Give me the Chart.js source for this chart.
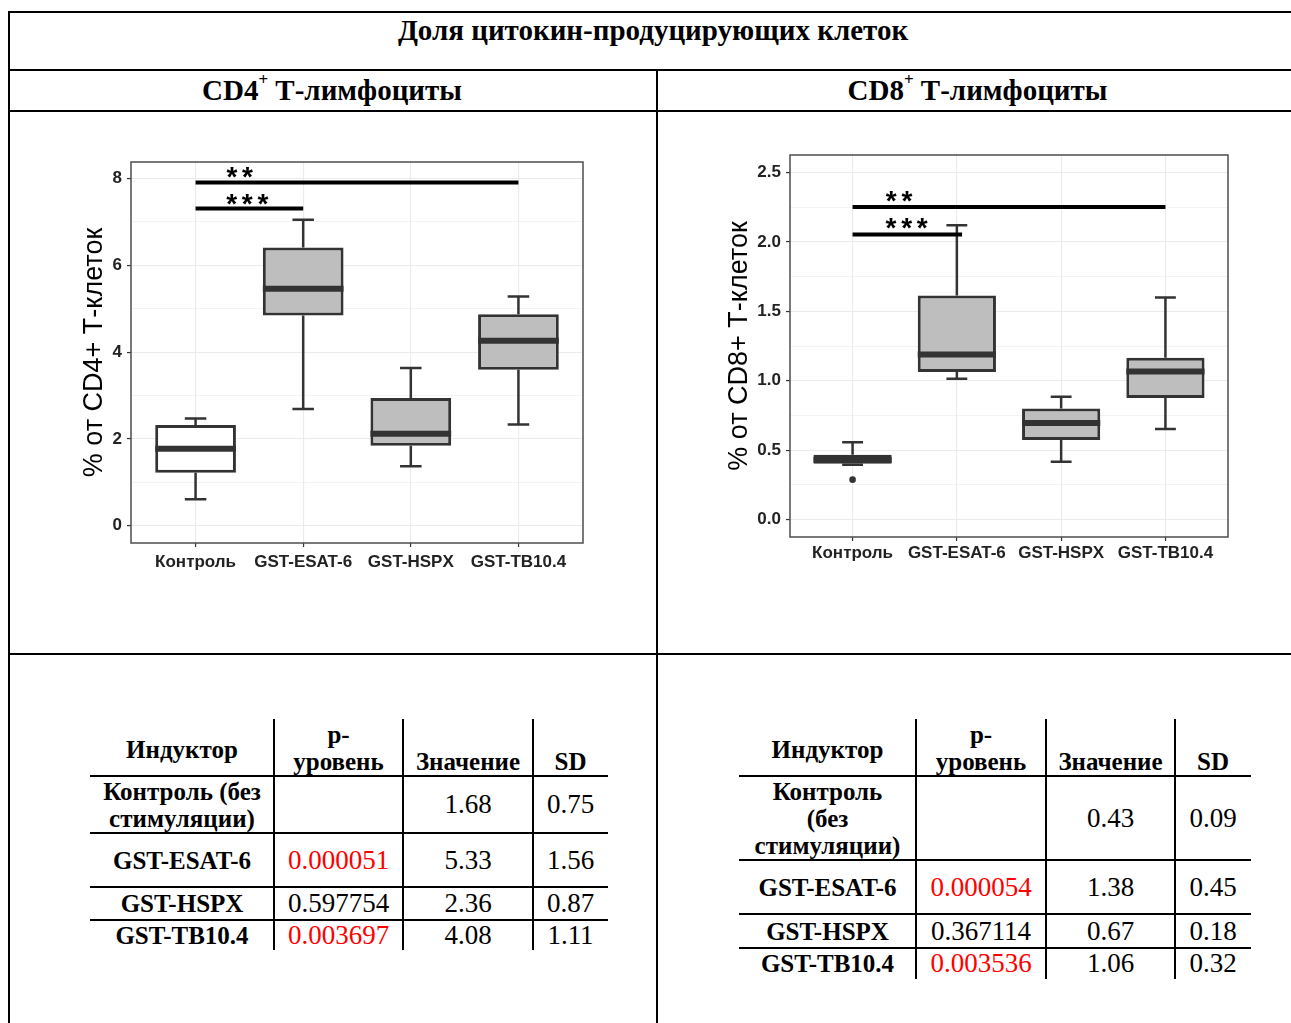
<!DOCTYPE html>
<html lang="ru">
<head>
<meta charset="utf-8">
<title>Доля цитокин-продуцирующих клеток</title>
<script src="https://cdn.jsdelivr.net/npm/chart.js@4.4.1/dist/chart.umd.min.js"></script>
<style>
  html, body { margin: 0; padding: 0; background: #fff; }
  body { position: relative; width: 1291px; height: 1023px; overflow: hidden;
         font-family: "Liberation Serif", "Times New Roman", serif; color: #000; }
  .hl { position: absolute; height: 2px; background: #000; }
  .vl { position: absolute; width: 2px; background: #000; }
  .caption { position: absolute; text-align: center; font-weight: bold; font-size: 29px;
             white-space: nowrap; line-height: 32px; }
  .caption sup { font-size: 17px; position: relative; top: -3px; vertical-align: top; line-height: 1; }
  canvas { position: absolute; }
  .cell { position: absolute; display: flex; justify-content: center; align-items: center;
          text-align: center; white-space: pre-line; line-height: 27px; box-sizing: border-box; }
  .cell.head { align-items: flex-end; padding-bottom: 1px; font-weight: bold; font-size: 25px; }
  .cell.head.mid { align-items: center; padding-bottom: 0; padding-top: 3px; }
  .cell.label { font-weight: bold; font-size: 25px; }
  .cell.num { font-size: 27px; }
  .cell.sig { color: #FF0000; }
</style>
</head>
<body>

<div class="hl" style="left:8px; top:11px; width:1283px;"></div>
<div class="vl" style="left:8px; top:11px; height:1012px;"></div>
<div class="hl" style="left:8px; top:69px; width:1283px;"></div>
<div class="hl" style="left:8px; top:110px; width:1283px;"></div>
<div class="vl" style="left:656px; top:69px; height:954px;"></div>
<div class="hl" style="left:8px; top:653px; width:1283px;"></div>

<div class="caption" style="left:153px; width:1000px; top:14px;">Доля цитокин-продуцирующих клеток</div>
<div class="caption" style="left:9px; width:646px; top:74px;">CD4<sup>+</sup> Т-лимфоциты</div>
<div class="caption" style="left:661px; width:633px; top:74px;">CD8<sup>+</sup> Т-лимфоциты</div>

<canvas id="cd4Chart" width="520" height="445" style="left:75px; top:140px;"></canvas>
<canvas id="cd8Chart" width="525" height="440" style="left:715px; top:135px;"></canvas>

<div id="cd4Table"></div>
<div id="cd8Table"></div>

<script>
// ---- groups ----
const categories = ['Контроль', 'GST-ESAT-6', 'GST-HSPX', 'GST-TB10.4'];

// ---- CD4+ box plot statistics (% of CD4+ T cells) ----
const cd4Min    = [0.61, 2.69, 1.37, 2.33];
const cd4Q1     = [1.22, 4.84, 1.84, 3.59];
const cd4Median = [1.77, 5.46, 2.12, 4.26];
const cd4Q3     = [2.32, 6.41, 2.94, 4.87];
const cd4Max    = [2.47, 7.05, 3.63, 5.28];
const cd4OutlierGroup = [];
const cd4OutlierValue = [];
const cd4YTicks = [0, 1, 2, 3, 4, 5, 6, 7, 8];
const cd4YLabels = [0, 2, 4, 6, 8];

// significance brackets for CD4+
const cd4SigFrom   = [1, 1];
const cd4SigTo     = [4, 2];
const cd4SigLevel  = [7.91, 7.31];
const cd4SigLabel  = ['**', '***'];
const cd4SigLabelX = [1.41, 1.48];
const cd4SigLabelY = [8.21, 7.59];

// ---- CD8+ box plot statistics (% of CD8+ T cells) ----
const cd8Min    = [0.395, 1.014, 0.417, 0.652];
const cd8Q1     = [0.403, 1.062, 0.573, 0.875];
const cd8Median = [0.431, 1.189, 0.695, 1.067];
const cd8Q3     = [0.467, 1.613, 0.800, 1.165];
const cd8Max    = [0.558, 2.120, 0.884, 1.599];
const cd8OutlierGroup = [1];
const cd8OutlierValue = [0.288];
const cd8YTicks = [0, 0.25, 0.5, 0.75, 1, 1.25, 1.5, 1.75, 2, 2.25, 2.5];
const cd8YLabels = [0, 0.5, 1, 1.5, 2, 2.5];

// significance brackets for CD8+
const cd8SigFrom   = [1, 1];
const cd8SigTo     = [4, 2.05];
const cd8SigLevel  = [2.25, 2.052];
const cd8SigLabel  = ['**', '***'];
const cd8SigLabelX = [1.446, 1.518];
const cd8SigLabelY = [2.346, 2.148];

// ---- summary tables ----
const tableHeaders = ['Индуктор', 'р-\nуровень', 'Значение', 'SD'];
const cd4RowLabels = ['Контроль (без\nстимуляции)', 'GST-ESAT-6', 'GST-HSPX', 'GST-TB10.4'];
const cd8RowLabels = ['Контроль\n(без\nстимуляции)', 'GST-ESAT-6', 'GST-HSPX', 'GST-TB10.4'];
const cd4PValues = ['', '0.000051', '0.597754', '0.003697'];
const cd4Means   = ['1.68', '5.33', '2.36', '4.08'];
const cd4SD      = ['0.75', '1.56', '0.87', '1.11'];
const cd8PValues = ['', '0.000054', '0.367114', '0.003536'];
const cd8Means   = ['0.43', '1.38', '0.67', '1.06'];
const cd8SD      = ['0.09', '0.45', '0.18', '0.32'];
const alpha = 0.05;

// ---------------------------------------------------------------
const INK = '#333333';
const GRID = '#EBEBEB';
const TICK_FONT = { family: 'Liberation Sans, Arial, sans-serif', weight: 'bold', size: 17 };

// whiskers, caps, medians, star labels and the panel frame
function boxDecorations(s) {
  return {
    id: 'boxDecorations',
    beforeDatasetsDraw(chart) {
      const { ctx } = chart;
      const x = chart.scales.x, y = chart.scales.y;
      ctx.save();
      ctx.strokeStyle = INK;
      ctx.lineWidth = 2.5;
      ctx.lineCap = 'butt';
      s.q1.forEach((q1, i) => {
        const cx = x.getPixelForValue(i + 1);
        const half = x.getPixelForValue(i + 1 + s.capWidth / 2) - cx;
        const yMin = y.getPixelForValue(s.min[i]);
        const yMax = y.getPixelForValue(s.max[i]);
        const yQ1 = y.getPixelForValue(q1);
        const yQ3 = y.getPixelForValue(s.q3[i]);
        ctx.beginPath();
        ctx.moveTo(cx, yQ3); ctx.lineTo(cx, yMax);
        ctx.moveTo(cx, yQ1); ctx.lineTo(cx, yMin);
        ctx.moveTo(cx - half, yMax); ctx.lineTo(cx + half, yMax);
        ctx.moveTo(cx - half, yMin); ctx.lineTo(cx + half, yMin);
        ctx.stroke();
      });
      ctx.restore();
    },
    afterDatasetsDraw(chart) {
      const { ctx } = chart;
      const x = chart.scales.x, y = chart.scales.y;
      const boxes = chart.getDatasetMeta(0).data;
      ctx.save();
      ctx.strokeStyle = INK;
      ctx.lineWidth = 6;
      ctx.lineCap = 'butt';
      boxes.forEach((bar, i) => {
        const ym = y.getPixelForValue(s.median[i]);
        ctx.beginPath();
        ctx.moveTo(bar.x - bar.width / 2, ym);
        ctx.lineTo(bar.x + bar.width / 2, ym);
        ctx.stroke();
      });
      // significance stars
      const fs = 28;
      ctx.fillStyle = '#000';
      ctx.font = `bold ${fs}px "Liberation Sans", Arial, sans-serif`;
      ctx.textAlign = 'center';
      ctx.textBaseline = 'alphabetic';
      s.sigLabel.forEach((lab, k) => {
        const cx = x.getPixelForValue(s.sigLabelX[k]);
        const cy = y.getPixelForValue(s.sigLabelY[k]);
        const step = 15.6;
        const n = lab.length;
        for (let j = 0; j < n; j++) {
          ctx.fillText(lab[j], cx + (j - (n - 1) / 2) * step, cy + 0.58 * fs);
        }
      });
      ctx.restore();
    },
    afterDraw(chart) {
      const { ctx, chartArea: a } = chart;
      ctx.save();
      ctx.strokeStyle = '#4d4d4d';
      ctx.lineWidth = 1.5;
      ctx.strokeRect(a.left, a.top, a.right - a.left, a.bottom - a.top);
      ctx.restore();
    }
  };
}

function boxChart(canvasId, s) {
  const fills = categories.map((c, i) => i === 0 ? '#FFFFFF' : '#BEBEBE');
  const datasets = [{
    type: 'bar',
    data: categories.map((c, i) => ({ x: i + 1, y: [s.q1[i], s.q3[i]] })),
    backgroundColor: fills,
    borderColor: INK,
    borderWidth: 3,
    borderSkipped: false,
    categoryPercentage: 1,
    barPercentage: 0.75,
    order: 3
  }];
  s.sigFrom.forEach((from, k) => {
    datasets.push({
      type: 'line',
      data: [{ x: from, y: s.sigLevel[k] }, { x: s.sigTo[k], y: s.sigLevel[k] }],
      borderColor: '#000',
      borderWidth: 4,
      pointRadius: 0,
      fill: false,
      order: 1
    });
  });
  if (s.outGroup.length) {
    datasets.push({
      type: 'scatter',
      data: s.outGroup.map((g, k) => ({ x: g, y: s.outValue[k] })),
      backgroundColor: INK,
      borderWidth: 0,
      pointRadius: 3.3,
      order: 2
    });
  }

  return new Chart(document.getElementById(canvasId), {
    type: 'bar',
    data: { datasets },
    plugins: [boxDecorations(s)],
    options: {
      responsive: false,
      animation: false,
      events: [],
      layout: { padding: { top: s.padTop, right: s.padRight, bottom: 0, left: 0 } },
      plugins: { legend: { display: false }, tooltip: { enabled: false }, title: { display: false } },
      scales: {
        x: {
          type: 'linear',
          min: 0.4, max: 4.6,
          offset: false,
          afterBuildTicks: sc => { sc.ticks = categories.map((c, i) => ({ value: i + 1 })); },
          afterFit: sc => { sc.height = s.xAxisHeight; },
          ticks: {
            callback: v => categories[Math.round(v) - 1],
            font: TICK_FONT, color: '#222', padding: s.xLabelPad,
            autoSkip: false, maxRotation: 0
          },
          grid: { color: GRID, lineWidth: 1.1, offset: false, tickColor: INK, tickLength: 4, tickWidth: 1.2 },
          border: { display: false }
        },
        y: {
          type: 'linear',
          min: s.yMin, max: s.yMax,
          afterBuildTicks: sc => { sc.ticks = s.yTicks.map(v => ({ value: v })); },
          afterFit: sc => { sc.width = s.yAxisWidth; },
          ticks: {
            callback: v => s.yLabels.includes(v) ? s.fmt(v) : '',
            font: TICK_FONT, color: '#222', padding: 5, autoSkip: false
          },
          grid: {
            color: GRID,
            lineWidth: c => s.yLabels.includes(c.tick.value) ? 1.1 : 0.6,
            tickColor: c => s.yLabels.includes(c.tick.value) ? INK : 'rgba(0,0,0,0)',
            tickLength: 4, tickWidth: 1.2
          },
          border: { display: false },
          title: {
            display: true,
            text: s.yTitle,
            color: '#000',
            font: { family: 'Liberation Sans, Arial, sans-serif', size: 27, weight: 'normal', lineHeight: 1.15 },
            padding: { top: s.titlePad, bottom: 0 }
          }
        }
      }
    }
  });
}

boxChart('cd4Chart', {
  min: cd4Min, q1: cd4Q1, median: cd4Median, q3: cd4Q3, max: cd4Max,
  outGroup: cd4OutlierGroup, outValue: cd4OutlierValue,
  yTicks: cd4YTicks, yLabels: cd4YLabels, fmt: v => String(v),
  yMin: -0.4, yMax: 8.38,
  sigFrom: cd4SigFrom, sigTo: cd4SigTo, sigLevel: cd4SigLevel,
  sigLabel: cd4SigLabel, sigLabelX: cd4SigLabelX, sigLabelY: cd4SigLabelY,
  yTitle: '% от CD4+ Т-клеток',
  capWidth: 0.2,
  padTop: 22, padRight: 12, yAxisWidth: 56, xAxisHeight: 42, xLabelPad: 5, titlePad: 4.5
});

boxChart('cd8Chart', {
  min: cd8Min, q1: cd8Q1, median: cd8Median, q3: cd8Q3, max: cd8Max,
  outGroup: cd8OutlierGroup, outValue: cd8OutlierValue,
  yTicks: cd8YTicks, yLabels: cd8YLabels, fmt: v => v.toFixed(1),
  yMin: -0.125, yMax: 2.625,
  sigFrom: cd8SigFrom, sigTo: cd8SigTo, sigLevel: cd8SigLevel,
  sigLabel: cd8SigLabel, sigLabelX: cd8SigLabelX, sigLabelY: cd8SigLabelY,
  yTitle: '% от CD8+ Т-клеток',
  capWidth: 0.2,
  padTop: 20, padRight: 12, yAxisWidth: 75, xAxisHeight: 38, xLabelPad: 2, titlePad: 9.5
});

// ---- summary tables: inner rules only, like the source document ----
function statsTable(hostId, left, top, colW, rowH, rowLabels, pValues, means, sds) {
  const host = document.getElementById(hostId);
  const xs = [left]; colW.forEach(w => xs.push(xs[xs.length - 1] + w));
  const ys = [top];  rowH.forEach(h => ys.push(ys[ys.length - 1] + h));
  const add = (cls, css, text) => {
    const d = document.createElement('div');
    d.className = cls; Object.assign(d.style, css);
    if (text !== undefined) d.textContent = text;
    host.appendChild(d);
    return d;
  };
  // vertical rules between columns
  for (let c = 1; c < colW.length; c++) {
    add('vl', { left: (xs[c] - 1) + 'px', top: ys[0] + 'px', height: (ys[ys.length - 1] - ys[0]) + 'px' });
  }
  // horizontal rules between rows
  for (let r = 1; r < ys.length - 1; r++) {
    add('hl', { left: xs[0] + 'px', top: (ys[r] - 1) + 'px', width: (xs[xs.length - 1] - xs[0]) + 'px' });
  }
  const cellBox = (r, c) => ({
    left: xs[c] + 'px', top: ys[r] + 'px',
    width: colW[c] + 'px', height: rowH[r] + 'px'
  });
  tableHeaders.forEach((h, c) => {
    add('cell head' + (c === 0 ? ' mid' : ''), cellBox(0, c), h);
  });
  rowLabels.forEach((lab, i) => {
    const r = i + 1;
    add('cell label', cellBox(r, 0), lab);
    const p = pValues[i];
    add('cell num' + (p !== '' && Number(p) < alpha ? ' sig' : ''), cellBox(r, 1), p);
    add('cell num', cellBox(r, 2), means[i]);
    add('cell num', cellBox(r, 3), sds[i]);
  });
}

statsTable('cd4Table', 90, 719, [184, 129, 130, 75], [57, 57, 54, 33, 30],
           cd4RowLabels, cd4PValues, cd4Means, cd4SD);
statsTable('cd8Table', 739, 719, [177, 130, 129, 76], [57, 84, 54, 34, 31],
           cd8RowLabels, cd8PValues, cd8Means, cd8SD);
</script>
</body>
</html>
